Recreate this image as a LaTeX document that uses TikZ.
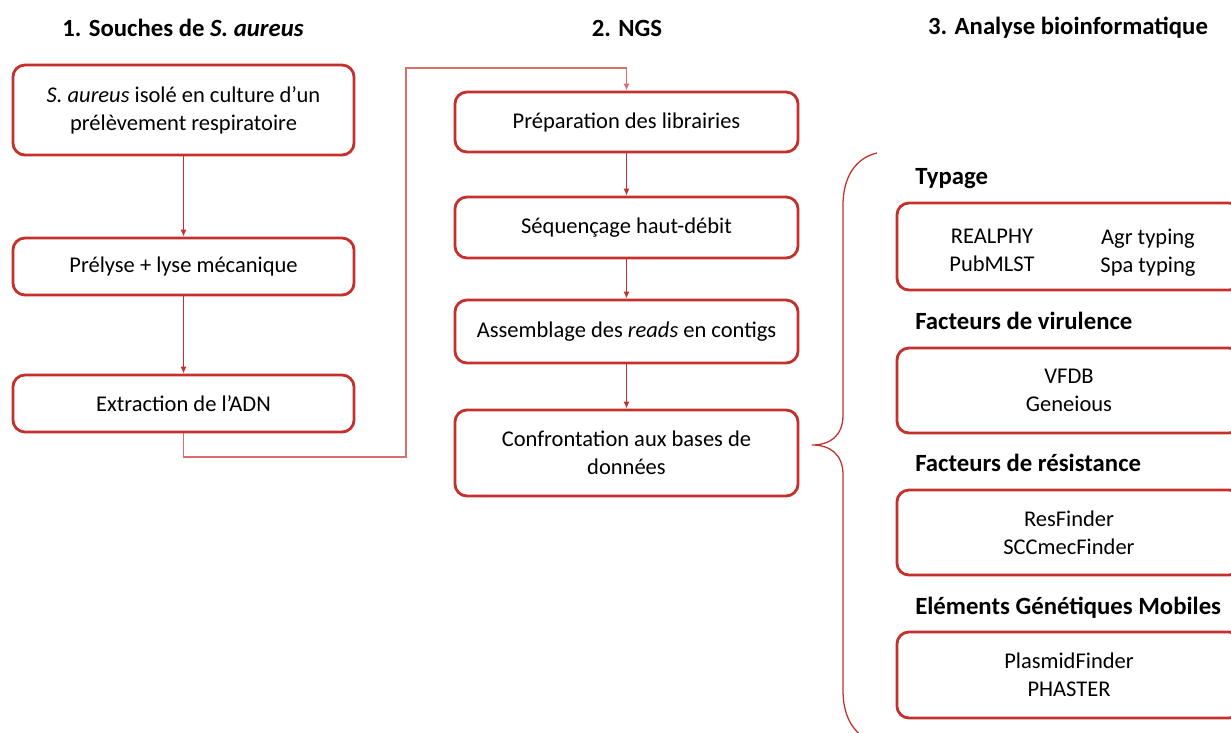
\documentclass[tikz,border=0pt]{standalone}
\usepackage{fontspec}
\setmainfont{Carlito}
\usetikzlibrary{arrows.meta}
\definecolor{boxred}{RGB}{196,48,43}
\definecolor{linkred}{RGB}{216,112,106}
\newcommand{\bodyfont}{\fontsize{16}{19.8}\selectfont}
\newcommand{\headfont}{\fontsize{17.6}{21}\selectfont\bfseries}
\tikzset{
	stepbox/.style={draw=boxred, line width=2pt, rounded corners=0.3cm, fill=white, align=center, font=\bodyfont, inner sep=0pt},
	coltitle/.style={font=\headfont},
	subtitle/.style={font=\headfont, anchor=west, inner sep=0pt},
	tool/.style={font=\bodyfont, align=center, inner sep=0pt, anchor=north},
	flow/.style={draw=boxred, line width=1pt, -{Latex[length=5pt,width=4.5pt]}},
}
\begin{document}
\begin{tikzpicture}[x=0.025cm, y=-0.025cm]
	\useasboundingbox (0,0) rectangle (1231,732);
	\clip (0,0) rectangle (1231,732);

	% titres des colonnes
	\draw node[coltitle] at (183, 28) (t1) {1. Souches de \textit{S. aureus}};
	\draw node[coltitle] at (627, 28) (t2) {2. NGS};
	\draw node[coltitle] at (1068, 28) (t3) {3. Analyse bioinformatique};

	% colonne 1
	\draw node[stepbox, minimum width=8.525cm, minimum height=2.25cm] at (183.5, 110) (iso) {\textit{S. aureus} isolé en culture d’un\\prélèvement respiratoire};
	\draw node[stepbox, minimum width=8.525cm, minimum height=1.425cm] at (183.5, 266.5) (lyse) {Prélyse + lyse mécanique};
	\draw node[stepbox, minimum width=8.525cm, minimum height=1.425cm] at (183.5, 403.5) (adn) {Extraction de l’ADN};

	% colonne 2
	\draw node[stepbox, minimum width=8.575cm, minimum height=1.5cm] at (626.5, 122) (lib) {Préparation des librairies};
	\draw node[stepbox, minimum width=8.575cm, minimum height=1.525cm] at (626.5, 227.5) (seq) {Séquençage haut-débit};
	\draw node[stepbox, minimum width=8.575cm, minimum height=1.575cm] at (626.5, 331.5) (asm) {Assemblage des \textit{reads} en contigs};
	\draw node[stepbox, minimum width=8.575cm, minimum height=2.15cm] at (626.5, 453) (bdd) {Confrontation aux bases de\\données};

	\draw [flow] (iso) -- (lyse);
	\draw [flow] (lyse) -- (adn);
	\draw [flow] (lib) -- (seq);
	\draw [flow] (seq) -- (asm);
	\draw [flow] (asm) -- (bdd);

	% lien entre colonnes 1 et 2
	\coordinate (bendlow) at (406, 457);
	\coordinate (bendhigh) at (406, 68);
	\draw [draw=linkred, line width=1.1pt, -{Latex[length=5pt,width=4.5pt]}] (adn.south) |- (bendlow) -- (bendhigh) -| (lib.north);

	% accolade
	\draw [boxred, line width=0.9pt] (877, 153) .. controls (855, 158) and (843, 178) .. (843, 205)
		-- (843, 415) .. controls (843, 436) and (830, 445) .. (812, 445)
		.. controls (830, 445) and (843, 454) .. (843, 475)
		-- (843, 690) .. controls (843, 712) and (850, 727) .. (862, 736);

	% colonne 3
	\draw node[subtitle] at (915, 179) (typ) {Typage};
	\draw node[stepbox, minimum width=8.6cm, minimum height=2.175cm] at (1069, 246.5) (typbox) {};
	\draw node[tool] at (992, 229) (typa) {REALPHY\\PubMLST};
	\draw node[tool] at (1148, 229) (typb) {Agr typing\\Spa typing};

	\draw node[subtitle] at (915, 321) (vir) {Facteurs de virulence};
	\draw node[stepbox, minimum width=8.6cm, minimum height=2.125cm] at (1069, 390.5) (virbox) {VFDB\\Geneious};

	\draw node[subtitle] at (915, 463) (res) {Facteurs de résistance};
	\draw node[stepbox, minimum width=8.6cm, minimum height=2.125cm] at (1069, 532.5) (resbox) {ResFinder\\SCCmecFinder};

	\draw node[subtitle] at (915, 608) (egm) {Eléments Génétiques Mobiles};
	\draw node[stepbox, minimum width=8.6cm, minimum height=2.15cm] at (1069, 675) (egmbox) {PlasmidFinder\\PHASTER};
\end{tikzpicture}
\end{document}
